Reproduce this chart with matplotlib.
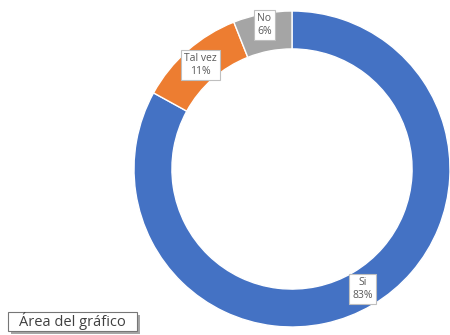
import numpy as np
import matplotlib.pyplot as plt
from matplotlib.patches import Rectangle

# Encuesta: respuestas en porcentaje
categorias = ['Si', 'Tal vez', 'No']
valores = [83, 11, 6]
colores = ['#4472C4', '#ED7D31', '#A5A5A5']

plt.rcParams['font.family'] = ['Open Sans', 'DejaVu Sans']

W, H = 450, 335
fig = plt.figure(figsize=(W / 100, H / 100), dpi=100)
ax = fig.add_axes([134 / W, 8 / H, 316 / W, 316 / H])

ancho = 0.24
wedges, _ = ax.pie(valores, colors=colores, startangle=90, counterclock=False,
                   radius=1.0, wedgeprops=dict(width=ancho, edgecolor='white', linewidth=1.0))
ax.set_xlim(-1, 1)
ax.set_ylim(-1, 1)
ax.set_aspect('equal')

# Etiquetas en el centro de cada segmento del anillo
r_med = 1 - ancho / 2
ajuste_r = {'Si': 0.0, 'Tal vez': 0.0, 'No': 0.05}
for cat, val, w in zip(categorias, valores, wedges):
    ang = np.deg2rad((w.theta1 + w.theta2) / 2)
    r = r_med + ajuste_r[cat]
    x, y = r * np.cos(ang), r * np.sin(ang)
    ax.text(x, y, f'{cat}\n{val}%', ha='center', va='center', fontsize=7.5,
            color='#595959', linespacing=1.25,
            bbox=dict(boxstyle='square,pad=0.3', facecolor='white',
                      edgecolor='#BFBFBF', linewidth=0.8))

# Recuadro "Área del gráfico" con sombra (coordenadas en píxeles desde arriba)
x0, y0, x1, y1 = 8, 312, 137, 331
fig.add_artist(Rectangle(((x0 + 3) / W, 1 - (y1 + 3) / H), (x1 - x0) / W, (y1 - y0) / H,
                         transform=fig.transFigure, facecolor='#A6A6A6',
                         edgecolor='none', zorder=4))
fig.add_artist(Rectangle((x0 / W, 1 - y1 / H), (x1 - x0) / W, (y1 - y0) / H,
                         transform=fig.transFigure, facecolor='white',
                         edgecolor='#767676', linewidth=0.8, zorder=5))
fig.text((x0 + x1) / 2 / W, 1 - (y0 + y1) / 2 / H, 'Área del gráfico',
         ha='center', va='center', fontsize=10.5, color='#404040', zorder=6)

fig.savefig('out.png', dpi=100)
